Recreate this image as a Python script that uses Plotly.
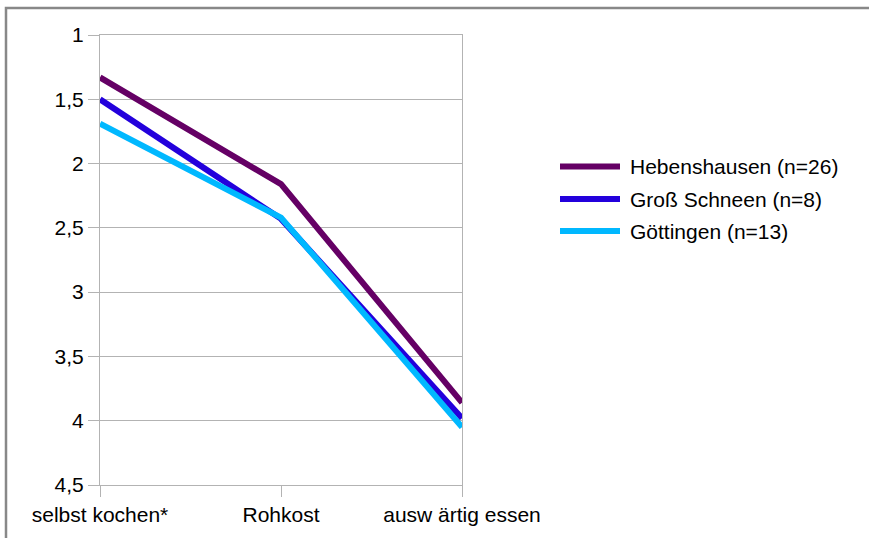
import plotly.graph_objects as go

categories = ["selbst kochen*", "Rohkost", "ausw ärtig essen"]
series_names = ["Hebenshausen (n=26)", "Groß Schneen (n=8)", "Göttingen (n=13)"]
hebenshausen = [1.33, 2.16, 3.86]
gross_schneen = [1.50, 2.43, 3.98]
goettingen = [1.69, 2.42, 4.05]
series_values = [hebenshausen, gross_schneen, goettingen]
series_colors = ["#650065", "#2300dc", "#00b8ff"]
y_tick_vals = [1, 1.5, 2, 2.5, 3, 3.5, 4, 4.5]
y_tick_text = ["1", "1,5", "2", "2,5", "3", "3,5", "4", "4,5"]

W, H = 869, 538
L, R, T, B = 100, 407, 35, 53
pw, ph = W - L - R, H - T - B
FONT = "Liberation Sans, Arial, sans-serif"
FS = 21

fig = go.Figure()
for name, vals, col in zip(series_names, series_values, series_colors):
    fig.add_trace(go.Scatter(
        x=categories, y=vals, mode="lines", name=name,
        line=dict(color=col, width=6), showlegend=False,
    ))

def px_x(x):
    return (x - L) / pw

def px_y(y):
    return (H - B - y) / ph

shapes = []
annotations = []
# outer frame of the chart
shapes.append(dict(type="rect", xref="paper", yref="paper",
                   x0=px_x(6), x1=px_x(W + 20), y0=px_y(H + 20), y1=px_y(8),
                   line=dict(color="#888888", width=2.5), fillcolor="rgba(0,0,0,0)",
                   layer="below"))
# manual legend
leg_y = [166.5, 199, 231]
for name, col, ly in zip(series_names, series_colors, leg_y):
    shapes.append(dict(type="line", xref="paper", yref="paper",
                       x0=px_x(560), x1=px_x(620), y0=px_y(ly), y1=px_y(ly),
                       line=dict(color=col, width=6)))
    annotations.append(dict(xref="paper", yref="paper", x=px_x(628), y=px_y(ly),
                            xanchor="left", yanchor="middle", showarrow=False,
                            text=name, font=dict(family=FONT, size=FS, color="#000000")))

fig.update_layout(
    width=W, height=H,
    margin=dict(l=L, r=R, t=T, b=B, pad=0),
    paper_bgcolor="white", plot_bgcolor="white",
    font=dict(family=FONT, size=FS, color="#000000"),
    shapes=shapes, annotations=annotations,
    xaxis=dict(
        type="category", range=[0, 2], showgrid=False,
        showline=True, linecolor="#b3b3b3", linewidth=1, mirror=True,
        ticks="outside", ticklen=11, tickcolor="#b3b3b3", tickwidth=1,
        tickfont=dict(family=FONT, size=FS, color="#000000"),
        zeroline=False,
    ),
    yaxis=dict(
        range=[4.5, 1], tickvals=y_tick_vals, ticktext=y_tick_text,
        showgrid=True, gridcolor="#b3b3b3", gridwidth=1,
        showline=True, linecolor="#b3b3b3", linewidth=1, mirror=True,
        ticks="outside", ticklen=11, tickcolor="#b3b3b3", tickwidth=1,
        tickfont=dict(family=FONT, size=FS, color="#000000"),
        zeroline=False,
    ),
)

fig.write_html(
    "out.html",
    config={"displayModeBar": False},
    post_script="document.body.style.margin='0';document.body.style.overflow='hidden';",
)
